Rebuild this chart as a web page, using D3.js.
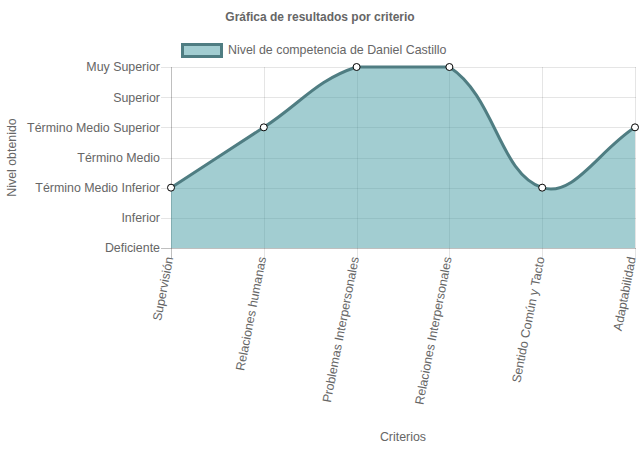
<!DOCTYPE html>
<html><head><meta charset="utf-8">
<script src="https://cdn.jsdelivr.net/npm/d3@7"></script>
<style>body{margin:0;background:#fff}svg{display:block}text{font-family:"Liberation Sans",Arial,sans-serif;fill:#666}</style>
</head><body><svg id="c" width="639" height="449"></svg>
<script>
const categories = ["Supervisión","Relaciones humanas","Problemas Interpersonales","Relaciones Interpersonales","Sentido Común y Tacto","Adaptabilidad"];
const levelLabels = ["Deficiente","Inferior","Término Medio Inferior","Término Medio","Término Medio Superior","Superior","Muy Superior"];
const values = [2,4,6,6,2,4];
const seriesName = "Nivel de competencia de Daniel Castillo";

const svg = d3.select("#c");
const L=171, R=635, T=67, B=248;
const FS="12.4px";
const x = d3.scalePoint().domain(categories).range([L,R]);
const y = d3.scaleLinear().domain([0,6]).range([B,T]);

// title
svg.append("text").attr("x",320).attr("y",21).attr("text-anchor","middle")
  .style("font-weight","bold").style("font-size","12px").text("Gráfica de resultados por criterio");
// legend
svg.append("rect").attr("x",182.5).attr("y",44.5).attr("width",39).attr("height",12)
  .attr("fill","rgba(69,156,164,0.5)").attr("stroke","#4f7d82").attr("stroke-width",3);
svg.append("text").attr("x",228).attr("y",50).attr("dy","0.35em").style("font-size",FS).text(seriesName);

// grid
const g = svg.append("g");
d3.range(0,7).forEach(i=>{
  g.append("line").attr("x1",L-10).attr("x2",R+1).attr("y1",Math.round(y(i))+0.5).attr("y2",Math.round(y(i))+0.5)
   .attr("stroke", i===0? "rgba(0,0,0,0.25)":"rgba(0,0,0,0.1)");
  svg.append("text").attr("x",L-11).attr("y",y(i)).attr("dy","0.35em").attr("text-anchor","end")
   .style("font-size",FS).text(levelLabels[i]);
});
categories.forEach((c,i)=>{
  g.append("line").attr("x1",Math.round(x(c))+0.5).attr("x2",Math.round(x(c))+0.5).attr("y1",T).attr("y2",B+10)
   .attr("stroke", i===0? "rgba(0,0,0,0.25)":"rgba(0,0,0,0.1)");
  const off = i===categories.length-1 ? -3 : -1.5;
  svg.append("text").attr("transform",`translate(${x(c)+off},${B+9}) rotate(-79)`)
   .attr("text-anchor","end").attr("dy","0.32em").style("font-size",FS).text(c);
});

// spline (Chart.js style tension 0.4)
const pts = values.map((v,i)=>({x:x(categories[i]), y:y(v)}));
const t=0.4;
pts.forEach((p,i)=>{
  const prev = pts[i-1]||p, next = pts[i+1]||p;
  const d01=Math.hypot(p.x-prev.x,p.y-prev.y), d12=Math.hypot(next.x-p.x,next.y-p.y);
  let s01=d01/(d01+d12), s12=d12/(d01+d12);
  if(isNaN(s01)) s01=0; if(isNaN(s12)) s12=0;
  const fa=t*s01, fb=t*s12;
  p.cp1x=p.x-fa*(next.x-prev.x); p.cp1y=p.y-fa*(next.y-prev.y);
  p.cp2x=p.x+fb*(next.x-prev.x); p.cp2y=p.y+fb*(next.y-prev.y);
  p.cp1x=Math.max(L,Math.min(R,p.cp1x)); p.cp2x=Math.max(L,Math.min(R,p.cp2x));
  p.cp1y=Math.max(T,Math.min(B,p.cp1y)); p.cp2y=Math.max(T,Math.min(B,p.cp2y));
});
function linePath(){
  const pa=d3.path(); pa.moveTo(pts[0].x,pts[0].y);
  for(let i=1;i<pts.length;i++){const a=pts[i-1],b=pts[i];pa.bezierCurveTo(a.cp2x,a.cp2y,b.cp1x,b.cp1y,b.x,b.y);}
  return pa;
}
const lp=linePath().toString();
svg.append("path").attr("d",lp+`L${R},${B}L${L},${B}Z`).attr("fill","rgba(69,156,164,0.5)");
svg.append("path").attr("d",lp).attr("fill","none").attr("stroke","#4f7d82").attr("stroke-width",3);
pts.forEach(p=>svg.append("circle").attr("cx",p.x).attr("cy",p.y).attr("r",3.5).attr("fill","#fff").attr("stroke","#000").attr("stroke-width",1));

// axis titles
svg.append("text").attr("transform",`translate(12,${(T+B)/2}) rotate(-90)`).attr("text-anchor","middle").attr("dy","0.35em")
  .style("font-size",FS).text("Nivel obtenido");
svg.append("text").attr("x",(L+R)/2).attr("y",437).attr("dy","0.35em").attr("text-anchor","middle").style("font-size",FS).text("Criterios");
</script></body></html>
